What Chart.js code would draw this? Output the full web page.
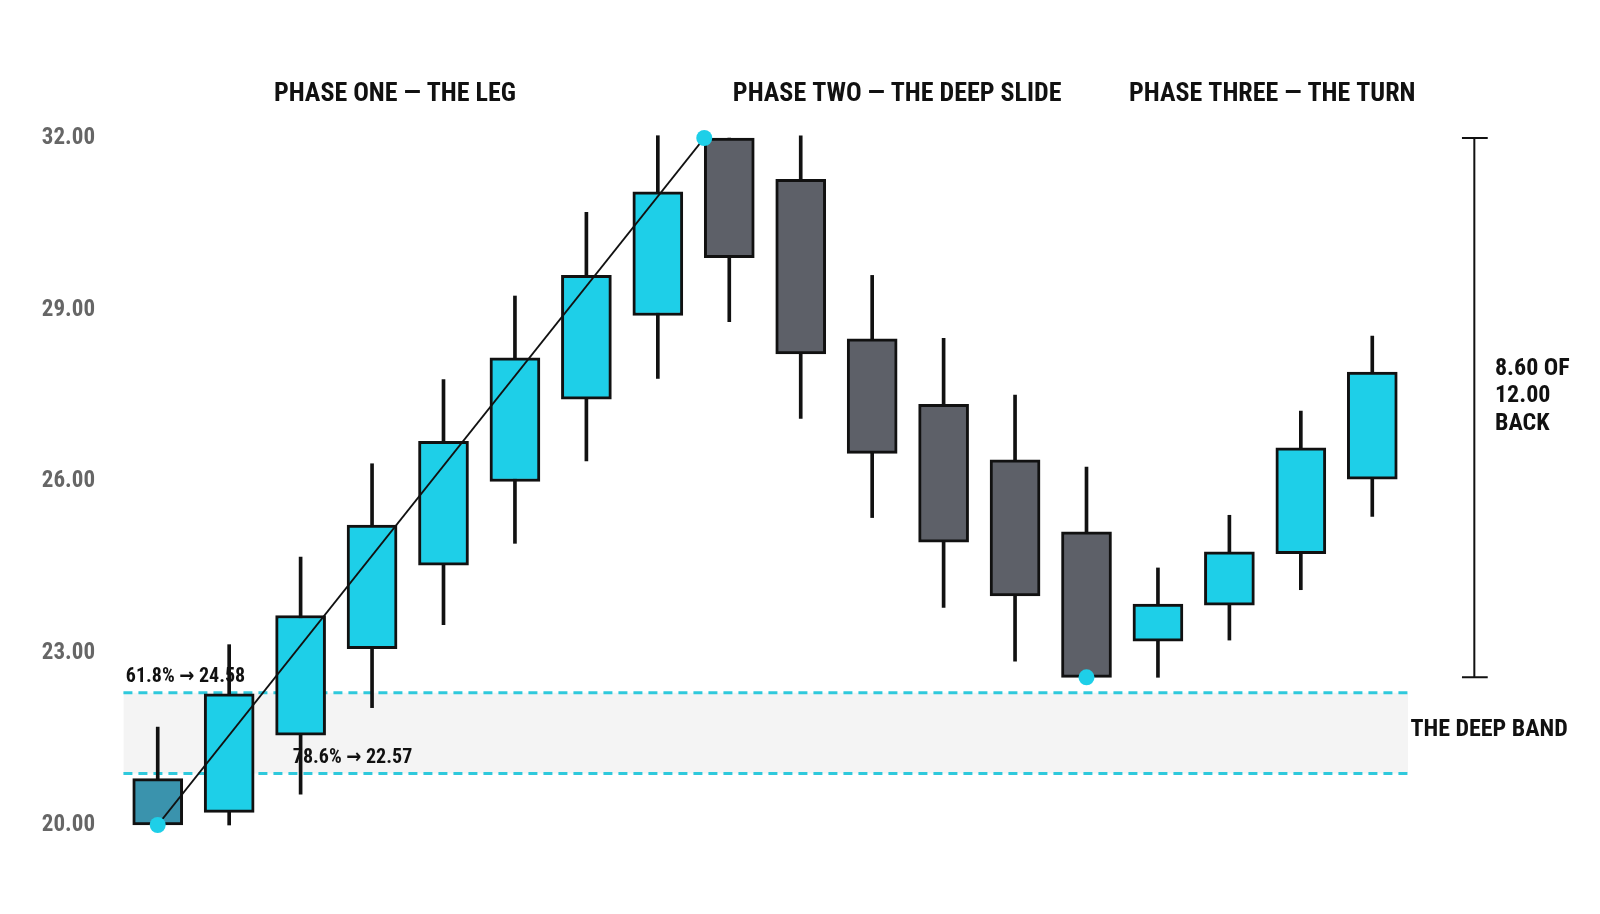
<!DOCTYPE html>
<html><head><meta charset="utf-8">
<script src="https://cdn.jsdelivr.net/npm/chart.js@4/dist/chart.umd.min.js"></script>
<style>html,body{margin:0;background:#fff}#w{width:1600px;height:914px}</style>
</head><body><div id="w"><canvas id="c"></canvas></div>
<script>
const opens  = [20.00,20.22,21.57,23.08,24.54,26.00,27.44,28.90,32.00,31.28,28.49,27.35,26.38,25.12,23.21,23.84,24.74,26.04];
const closes = [20.81,22.29,23.66,25.24,26.70,28.16,29.60,31.06,29.91,28.23,26.49,24.94,24.00,22.58,23.86,24.77,26.59,27.91];
const highs  = [21.71,23.15,24.68,26.31,27.78,29.24,30.70,32.04,32.00,32.04,29.60,28.50,27.51,26.25,24.49,25.41,27.23,28.54];
const lows   = [20.00,20.00,20.54,22.05,23.50,24.92,26.36,27.80,28.79,27.10,25.37,23.80,22.86,22.58,22.58,23.23,24.11,25.39];
const yTicks = [20,23,26,29,32];
const bandTop = 22.31, bandBottom = 20.90;
const legStart = {x:0, y:20.00}, legEnd = {x:7.65, y:32.00}, slideLow = {x:13, y:22.58};
const phases = [["PHASE ONE — THE LEG",3.32],["PHASE TWO — THE DEEP SLIDE",10.35],["PHASE THREE — THE TURN",15.6]];
const FONT = "'Liberation Sans Narrow','Roboto Condensed','DejaVu Sans Condensed',sans-serif";
const CYAN='#1ecfe8', GREY='#5d6068', FIRST='#3a93ad';
const K = 1.031;

const idx = opens.map((_,i)=>i);
const bodyColors = idx.map(i => i===0 ? FIRST : (closes[i]>=opens[i] ? CYAN : GREY));

const textPlugin = {
  id:'txt',
  afterDraw(ch){
    const c=ch.ctx, x=ch.scales.x, y=ch.scales.y;
    c.save();
    c.fillStyle='#111'; c.textBaseline='middle';
    c.font=`bold 26px ${FONT}`; c.textAlign='center';
    phases.forEach(p=>c.fillText(p[0], x.getPixelForValue(p[1]), 92*K));
    c.font=`bold 20px ${FONT}`; c.textAlign='left';
    c.fillText('61.8% → 24.58', 122*K, 657*K);
    c.fillText('78.6% → 22.57', 284*K, 735*K);
    c.font=`bold 24px ${FONT}`;
    c.fillText('THE DEEP BAND', 1368*K, 708*K);
    c.fillText('8.60 OF', 1450*K, 358*K);
    c.fillText('12.00', 1450*K, 384*K);
    c.fillText('BACK', 1450*K, 411*K);
    const t=y.getPixelForValue(32), b=y.getPixelForValue(22.58);
    c.strokeStyle='#111'; c.lineWidth=2;
    c.beginPath();
    c.moveTo(1430*K,t); c.lineTo(1430*K,b);
    c.moveTo(1418*K,t); c.lineTo(1443*K,t);
    c.moveTo(1418*K,b); c.lineTo(1443*K,b);
    c.stroke();
    c.restore();
  }
};

new Chart(document.getElementById('c'), {
  data:{datasets:[
    {type:'line', data:[{x:-0.48,y:bandTop},{x:17.5,y:bandTop}], borderColor:'#2fc9dc', borderWidth:3, borderDash:[9,6], pointRadius:0, order:10},
    {type:'line', data:[{x:-0.48,y:bandBottom},{x:17.5,y:bandBottom}], borderColor:'#2fc9dc', borderWidth:3, borderDash:[9,6], pointRadius:0, fill:'-1', backgroundColor:'rgba(240,240,240,0.7)', order:10},
    {type:'bar', data:idx.map(i=>({x:i,y:[lows[i],highs[i]]})), backgroundColor:'#111', barThickness:3, grouped:false, order:5},
    {type:'bar', data:idx.map(i=>({x:i,y:[opens[i],closes[i]]})), backgroundColor:bodyColors, borderColor:'#111', borderWidth:3, borderSkipped:false, barThickness:50, grouped:false, order:4},
    {type:'line', data:[legStart,legEnd], borderColor:'#111', borderWidth:2, pointRadius:8, pointBackgroundColor:CYAN, pointBorderWidth:0, order:1},
    {type:'scatter', data:[slideLow], pointRadius:8, pointBackgroundColor:CYAN, pointBorderWidth:0, order:1}
  ]},
  options:{
    responsive:true, maintainAspectRatio:false, animation:false,
    layout:{padding:{left:0,right:192,top:138,bottom:89}},
    plugins:{legend:{display:false},tooltip:{enabled:false}},
    clip:false,
    scales:{
      x:{type:'linear', min:-0.5, max:17.5, display:false, offset:false},
      y:{min:20, max:32, afterFit:s=>{s.width=122;}, afterBuildTicks:s=>{s.ticks=yTicks.map(v=>({value:v}));},
         grid:{display:false}, border:{display:false},
         ticks:{padding:19, color:'#666', font:{family:FONT, size:23, weight:'bold'}, callback:v=>v.toFixed(2)}}
    }
  },
  plugins:[textPlugin]
});
</script></body></html>
